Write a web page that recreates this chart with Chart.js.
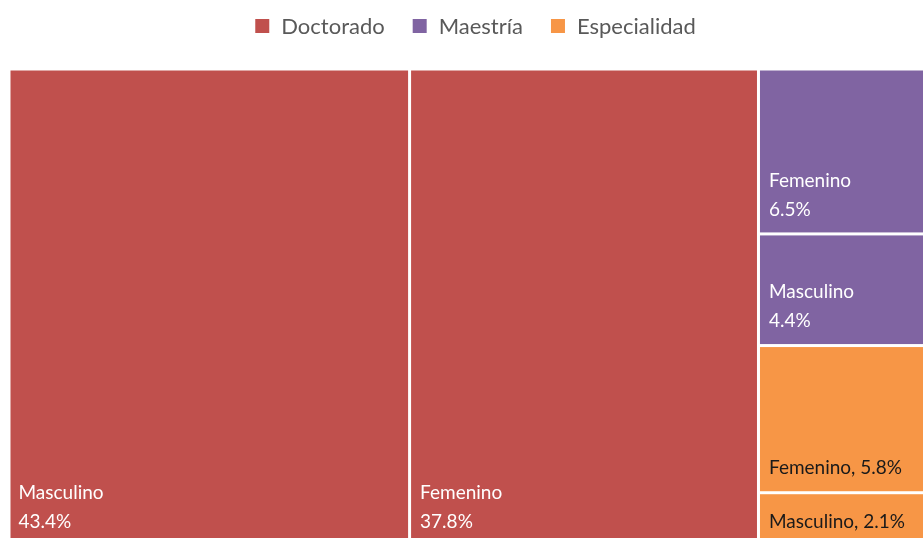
<!DOCTYPE html>
<html>
<head>
<meta charset="utf-8">
<script src="https://cdn.jsdelivr.net/npm/chart.js@4.4.1/dist/chart.umd.min.js"></script>
<style>
    html, body { margin: 0; padding: 0; background: #ffffff; overflow: hidden; }
    #wrap { width: 932px; height: 546px; }
</style>
</head>
<body>
<div id="wrap"><canvas id="tree" width="932" height="546"></canvas></div>
<script>
// Groups (legend) and their colours
const groups = ['Doctorado', 'Maestría', 'Especialidad'];
const groupColors = ['#C0504D', '#8064A2', '#F79646'];
const groupTextColors = ['#ffffff', '#ffffff', '#1a1a1a'];

// Treemap leaves
const cellGroup = [0, 0, 1, 1, 2, 2];
const cellLabels = ['Masculino', 'Femenino', 'Femenino', 'Masculino', 'Femenino', 'Masculino'];
const cellValues = [43.4, 37.8, 6.5, 4.4, 5.8, 2.1];

const FONT = 'Lato, "Open Sans", sans-serif';

/**
 * Slice-and-dice layout in data units (0..100 on both axes):
 * the first group is split into columns, the remaining groups
 * share one last column and are stacked as rows.
 */
function layoutCells() {
    const total = cellValues.reduce((a, b) => a + b, 0);
    const rects = [];
    let x = 0;
    const restIdx = [];
    cellValues.forEach((v, i) => {
        if (cellGroup[i] === 0) {
            const w = v / total * 100;
            rects[i] = { x0: x, x1: x + w, y0: 0, y1: 100 };
            x += w;
        } else {
            restIdx.push(i);
        }
    });
    const restTotal = restIdx.reduce((s, i) => s + cellValues[i], 0);
    let y = 0;
    restIdx.forEach(i => {
        const h = cellValues[i] / restTotal * 100;
        rects[i] = { x0: x, x1: 100, y0: y, y1: y + h };
        y += h;
    });
    return rects;
}

const treemapPlugin = {
    id: 'treemapCells',
    beforeDatasetsDraw(chart) {
        const ctx = chart.ctx;
        const xs = chart.scales.x;
        const ys = chart.scales.y;
        const rects = layoutCells();
        const gap = 1.5;

        rects.forEach((r, i) => {
            const left = xs.getPixelForValue(r.x0) + gap;
            const right = xs.getPixelForValue(r.x1) - gap;
            const top = ys.getPixelForValue(r.y0) + gap;
            const bottom = ys.getPixelForValue(r.y1) - gap;
            const g = cellGroup[i];

            ctx.save();
            ctx.fillStyle = groupColors[g];
            ctx.fillRect(left, top, right - left, bottom - top);

            // Labels sit near the bottom-left corner of each cell
            ctx.fillStyle = groupTextColors[g];
            ctx.font = '19px ' + FONT;
            ctx.textBaseline = 'middle';
            ctx.textAlign = 'left';
            const tx = left + (i === 0 ? 8 : 9);
            const lastY = bottom - 23;
            if (g === 2) {
                ctx.fillText(cellLabels[i] + ', ' + cellValues[i].toFixed(1) + '%', tx, lastY);
            } else {
                ctx.fillText(cellLabels[i], tx, lastY - 29);
                ctx.fillText(cellValues[i].toFixed(1) + '%', tx, lastY);
            }
            ctx.restore();
        });
    }
};

const legendPlugin = {
    id: 'groupLegend',
    afterDraw(chart) {
        const ctx = chart.ctx;
        ctx.save();
        ctx.font = '22px ' + FONT;
        ctx.textBaseline = 'middle';
        const box = 14, textGap = 12, itemGap = 28;
        const widths = groups.map(t => box + textGap + ctx.measureText(t).width);
        const totalW = widths.reduce((a, b) => a + b, 0) + itemGap * (groups.length - 1);
        let x = 475.5 - totalW / 2;
        const cy = 26;
        groups.forEach((t, i) => {
            ctx.fillStyle = groupColors[i];
            ctx.fillRect(x, cy - box / 2, box, box);
            ctx.fillStyle = '#595959';
            ctx.fillText(t, x + box + textGap, cy + 1);
            x += widths[i] + itemGap;
        });
        ctx.restore();
    }
};

new Chart(document.getElementById('tree').getContext('2d'), {
    type: 'scatter',
    data: {
        datasets: groups.map((g, i) => ({
            label: g,
            data: [],
            backgroundColor: groupColors[i]
        }))
    },
    options: {
        responsive: false,
        animation: false,
        layout: { padding: { left: 9, top: 69, right: 0, bottom: 0 } },
        scales: {
            x: { type: 'linear', min: 0, max: 100, display: false },
            y: { type: 'linear', min: 0, max: 100, reverse: true, display: false }
        },
        plugins: {
            legend: { display: false },
            tooltip: { enabled: false }
        }
    },
    plugins: [treemapPlugin, legendPlugin]
});
</script>
</body>
</html>
